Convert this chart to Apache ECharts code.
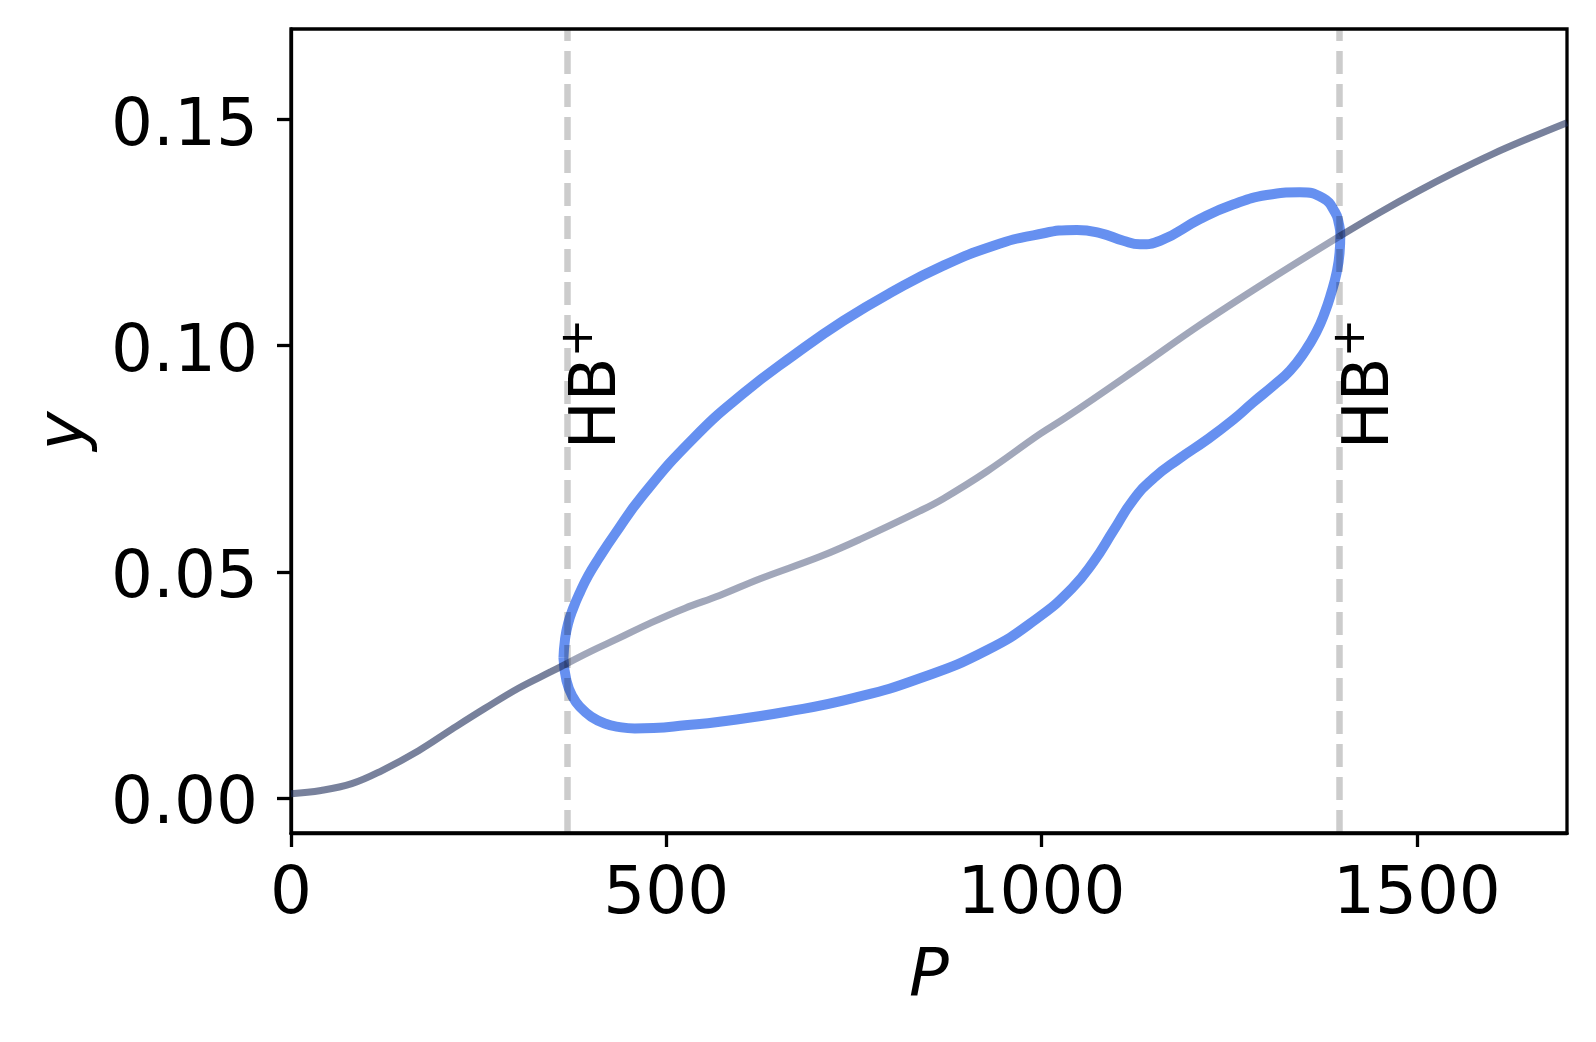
<!DOCTYPE html>
<html>
<head>
<meta charset="utf-8">
<title>Bifurcation diagram</title>
<script src="https://cdn.jsdelivr.net/npm/echarts@6/dist/echarts.min.js"></script>
<style>
  html, body { margin: 0; padding: 0; background: #ffffff; }
  #chart { width: 1596px; height: 1042px; }
</style>
</head>
<body>
<div id="chart"></div>
<script>
// steady state branch, stable part left of the first Hopf point
var stableLeftP = [0, 40, 81, 120, 170, 214, 258, 303, 347, 368];
var stableLeftY = [0.0010, 0.0017, 0.0032, 0.0060, 0.0105, 0.0152, 0.0198, 0.0243, 0.0280, 0.0298];

// unstable part between the two Hopf points
var unstableP = [368, 400, 436, 480, 525, 571, 625, 705, 758, 838, 869, 927, 998, 1033, 1122, 1211, 1300, 1397];
var unstableY = [0.0298, 0.0325, 0.0353, 0.0388, 0.0420, 0.0448, 0.0485, 0.0534, 0.0572, 0.0635, 0.0662, 0.0722, 0.0805, 0.0842, 0.0943, 0.1046, 0.1142, 0.1242];

// stable again after the second Hopf point
var stableRightP = [1397, 1450, 1500, 1550, 1600, 1650, 1700];
var stableRightY = [0.1242, 0.1294, 0.1340, 0.1383, 0.1423, 0.1459, 0.1493];

// limit cycle max / min envelope, drawn as one closed loop
var loopP = [363, 365, 369, 376, 385, 396, 410, 430, 469, 536, 603, 669, 736, 802, 869, 936, 989, 1047, 1078, 1109, 1131, 1158, 1211, 1255, 1300, 1344, 1375, 1391, 1396, 1398,
  1397, 1393, 1386, 1377, 1366, 1351, 1331, 1309, 1282, 1255, 1220, 1184, 1149, 1122, 1096, 1069, 1040, 993, 927, 838, 749, 660, 571, 525, 483, 458, 438, 418, 400, 386, 375, 367, 363];
var loopY = [0.0310, 0.0350, 0.0385, 0.0420, 0.0455, 0.0492, 0.0530, 0.0580, 0.0670, 0.0795, 0.0895, 0.0978, 0.1055, 0.1120, 0.1177, 0.1221, 0.1244, 0.1256, 0.1249, 0.1232, 0.1224, 0.1232, 0.1280, 0.1312, 0.1333, 0.1339, 0.1326, 0.1295, 0.1270, 0.1245,
  0.1205, 0.1161, 0.1117, 0.1072, 0.1030, 0.0988, 0.0945, 0.0912, 0.0875, 0.0836, 0.0792, 0.0751, 0.0707, 0.0659, 0.0592, 0.0522, 0.0463, 0.0396, 0.0327, 0.0265, 0.0221, 0.0191, 0.0169, 0.0161, 0.0155, 0.0154, 0.0157, 0.0165, 0.0180, 0.0200, 0.0225, 0.0260, 0.0310];

// Hopf bifurcation points
var hbP = [368, 1397];
var hbLabelY = 0.077;

var xTicks = [0, 500, 1000, 1500];
var yTicks = [0, 0.05, 0.10, 0.15];

function pairs(xs, ys) {
  return xs.map(function (x, i) { return [x, ys[i]]; });
}

var chart = echarts.init(document.getElementById('chart'));

var font = 'DejaVu Sans';

var option = {
  animation: false,
  textStyle: { fontFamily: font },
  grid: {
    left: 291,
    right: 29,
    top: 29,
    bottom: 209,
    show: true,
    borderColor: '#000000',
    borderWidth: 3.3,
    backgroundColor: 'transparent'
  },
  xAxis: {
    type: 'value',
    min: 0,
    max: 1700,
    name: 'P',
    nameLocation: 'middle',
    nameGap: 112,
    nameTextStyle: { fontSize: 66, fontStyle: 'italic', color: '#000', fontFamily: font },
    axisLine: { show: true, onZero: false, lineStyle: { color: '#000', width: 3.3 } },
    axisTick: { show: true, inside: false, length: 14, lineStyle: { color: '#000', width: 3.3 }, customValues: xTicks },
    axisLabel: { color: '#000', fontSize: 66, margin: 30, fontFamily: font, customValues: xTicks,
      formatter: function (v) { return String(v); } },
    splitLine: { show: false }
  },
  yAxis: {
    type: 'value',
    min: -0.0077,
    max: 0.17,
    name: 'y',
    nameLocation: 'middle',
    nameGap: 192,
    nameRotate: 90,
    nameTextStyle: { fontSize: 66, fontStyle: 'italic', color: '#000', fontFamily: font },
    axisLine: { show: true, onZero: false, lineStyle: { color: '#000', width: 3.3 } },
    axisTick: { show: true, inside: false, length: 14, lineStyle: { color: '#000', width: 3.3 }, customValues: yTicks },
    axisLabel: { color: '#000', fontSize: 66, margin: 33, fontFamily: font, customValues: yTicks,
      formatter: function (v) { return '{v|' + v.toFixed(2) + '}'; },
      rich: {
        v: { fontSize: 66, color: '#000', fontFamily: font, padding: [16, 0, 0, 0] }
      } },
    splitLine: { show: false }
  },
  series: [
    {
      name: 'cycle',
      type: 'line',
      data: pairs(loopP, loopY),
      smooth: 0.5,
      symbol: 'none',
      lineStyle: { color: '#6690f0', width: 10 },
      z: 2
    },
    {
      name: 'stable left',
      type: 'line',
      data: pairs(stableLeftP, stableLeftY),
      smooth: 0.4,
      symbol: 'none',
      lineStyle: { color: 'rgba(30,45,90,0.6)', width: 7, cap: 'butt' },
      z: 3
    },
    {
      name: 'unstable',
      type: 'line',
      data: pairs(unstableP, unstableY),
      smooth: 0.4,
      symbol: 'none',
      lineStyle: { color: 'rgba(30,45,90,0.42)', width: 7, cap: 'butt' },
      z: 3
    },
    {
      name: 'stable right',
      type: 'line',
      data: pairs(stableRightP, stableRightY),
      smooth: 0.4,
      symbol: 'none',
      lineStyle: { color: 'rgba(30,45,90,0.6)', width: 7, cap: 'butt' },
      z: 3,
      markLine: {
        silent: true,
        symbol: 'none',
        label: { show: false },
        lineStyle: { color: 'rgba(0,0,0,0.2)', width: 6.5, type: [23, 10] },
        data: hbP.map(function (p) { return { xAxis: p }; })
      }
    },
    {
      name: 'HB labels',
      type: 'scatter',
      data: hbP.map(function (p) { return [p, hbLabelY]; }),
      symbolSize: 1,
      itemStyle: { color: 'rgba(0,0,0,0)' },
      z: 4,
      label: {
        show: true,
        color: '#000',
        opacity: 1,
        rotate: 90,
        position: [-10, 0],
        align: 'left',
        verticalAlign: 'top',
        formatter: '{a|HB}{s|+}',
        rich: {
          a: { fontSize: 64, lineHeight: 74, color: '#000', fontFamily: font, verticalAlign: 'bottom' },
          s: { fontSize: 46, lineHeight: 16, color: '#000', fontFamily: font, verticalAlign: 'top' }
        }
      }
    }
  ]
};

chart.setOption(option);

window.addEventListener('resize', chart.resize);
</script>
</body>
</html>
